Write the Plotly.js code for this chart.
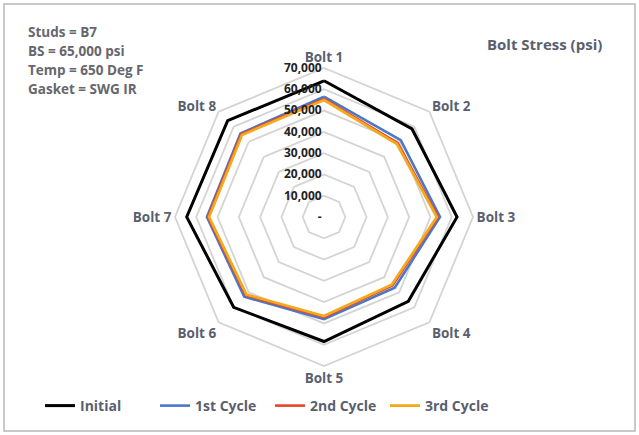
<!DOCTYPE html>
<html>
<head>
<meta charset="utf-8">
<script src="https://cdn.plot.ly/plotly-3.0.1.min.js"></script>
<style>
  html, body { margin: 0; padding: 0; background: #ffffff; }
  #chart { width: 639px; height: 435px; }
</style>
</head>
<body>
<div id="chart"></div>
<script>
// ---- data ----
const bolts = ["Bolt 1", "Bolt 2", "Bolt 3", "Bolt 4", "Bolt 5", "Bolt 6", "Bolt 7", "Bolt 8"];
const initialStress = [64000, 58500, 62500, 56000, 58500, 60000, 64500, 64000];
const cycle1Stress  = [56500, 51000, 54500, 47000, 48000, 53000, 55000, 55500];
const cycle2Stress  = [55500, 49000, 53500, 45500, 47000, 52000, 54500, 55000];
const cycle3Stress  = [55000, 48500, 53000, 45000, 46500, 51500, 54000, 54500];
const seriesNames = ["Initial", "1st Cycle", "2nd Cycle", "3rd Cycle"];
const radialTickVals = [0, 10000, 20000, 30000, 40000, 50000, 60000, 70000];
const radialTickText = ["-", "10,000", "20,000", "30,000", "40,000", "50,000", "60,000", "70,000"];
const infoLines = ["Studs = B7", "BS = 65,000 psi", "Temp = 650 Deg F", "Gasket = SWG IR"];
const chartTitle = "Bolt Stress (psi)";

// ---- styling ----
const FONT = "'Open Sans', Lato, sans-serif";
const colors = ["#000000", "#4A78C8", "#E8432A", "#F2A91E"];
const widths = [3, 2.6, 2.6, 2.8];
const allSeries = [initialStress, cycle1Stress, cycle2Stress, cycle3Stress];

function closeLoop(arr) { return arr.concat([arr[0]]); }

const traces = allSeries.map((vals, i) => ({
  type: "scatterpolar",
  mode: "lines",
  name: seriesNames[i],
  r: closeLoop(vals),
  theta: closeLoop(bolts),
  line: { color: colors[i], width: widths[i] },
  hoverinfo: "skip"
}));

const W = 639, H = 435;
const cx = 324, cy = 217, R = 149;

const annotations = infoLines.map((t, i) => ({
  text: "<b>" + t + "</b>",
  xref: "paper", yref: "paper",
  x: 26 / W, y: 1 - (32 + i * 19) / H,
  xanchor: "left", yanchor: "middle", align: "left",
  showarrow: false,
  font: { family: FONT, size: 13.5, color: "#66666e" }
}));
annotations.push({
  text: "<b>" + chartTitle + "</b>",
  xref: "paper", yref: "paper",
  x: 604 / W, y: 1 - 44 / H,
  xanchor: "right", yanchor: "middle",
  showarrow: false,
  font: { family: FONT, size: 15, color: "#5a5f70" }
});

const layout = {
  width: W, height: H,
  margin: { l: 0, r: 0, t: 0, b: 0 },
  paper_bgcolor: "#ffffff",
  showlegend: true,
  legend: {
    orientation: "h",
    x: 40 / W, y: 1 - 406 / H,
    xanchor: "left", yanchor: "middle",
    font: { family: FONT, size: 14, color: "#5a5f70", weight: "bold" },
    entrywidth: 70,
    entrywidthmode: "pixels",
    traceorder: "normal"
  },
  polar: {
    domain: { x: [(cx - R) / W, (cx + R) / W], y: [(H - cy - R) / H, (H - cy + R) / H] },
    bgcolor: "rgba(0,0,0,0)",
    gridshape: "linear",
    angularaxis: {
      direction: "clockwise",
      rotation: 90,
      categoryorder: "array",
      categoryarray: bolts,
      showgrid: false,
      showline: true,
      linecolor: "#d4d4d4",
      linewidth: 1.8,
      ticks: "",
      tickfont: { family: FONT, size: 13.5, color: "#5a5f70", weight: "bold" }
    },
    radialaxis: {
      range: [0, 70000],
      angle: 90,
      side: "counterclockwise",
      tickangle: 90,
      tickvals: radialTickVals,
      ticktext: radialTickText,
      showline: false,
      ticks: "",
      gridcolor: "#d4d4d4",
      gridwidth: 1.8,
      tickfont: { family: FONT, size: 12, color: "#222222", weight: "bold" }
    }
  },
  annotations: annotations,
  shapes: [
    {
      type: "rect", xref: "paper", yref: "paper",
      x0: 4 / W, x1: 635 / W, y0: 1 - 431 / H, y1: 1 - 4 / H,
      line: { color: "#b8b8bc", width: 1.5 }, fillcolor: "rgba(0,0,0,0)", layer: "below"
    }
  ]
};

Plotly.newPlot("chart", traces, layout, { displayModeBar: false, staticPlot: true });
</script>
</body>
</html>
